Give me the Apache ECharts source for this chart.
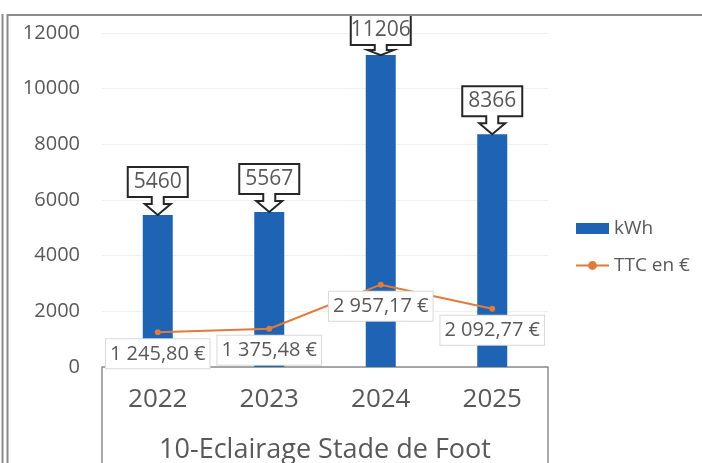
<!DOCTYPE html>
<html><head><meta charset="utf-8">
<script src="https://cdn.jsdelivr.net/npm/echarts@6/dist/echarts.min.js"></script>
<style>html,body{margin:0;padding:0;background:#fff}#c{width:702px;height:463px}</style>
</head><body><div id="c"></div>
<script>
const categories = ['2022', '2023', '2024', '2025'];
const kwhValues = [5460, 5567, 11206, 8366];
const ttcValues = [1245.80, 1375.48, 2957.17, 2092.77];
const yTicks = [0, 2000, 4000, 6000, 8000, 10000, 12000];
const axisTitle = '10-Eclairage Stade de Foot';
const seriesNames = ['kWh', 'TTC en €'];

const FONT = '"Open Sans", sans-serif';
const TEXT = '#595959';
function fmtEuro(v) {
  const parts = v.toFixed(2).split('.');
  const intPart = parts[0].replace(/\B(?=(\d{3})+(?!\d))/g, ' ');
  return intPart + ',' + parts[1] + ' €';
}

const chart = echarts.init(document.getElementById('c'), null, {renderer: 'canvas'});
chart.setOption({
  animation: false,
  backgroundColor: '#fff',
  textStyle: {fontFamily: FONT},
  grid: {left: 102, right: 154, top: 33, bottom: 96, containLabel: false, outerBoundsMode: 'none'},
  legend: {
    orient: 'vertical', left: 570, top: 214, itemGap: 18,
    itemWidth: 33, itemHeight: 11,
    textStyle: {color: TEXT, fontSize: 19, fontFamily: FONT},
    data: [
      {name: seriesNames[0], icon: 'rect'},
      {name: seriesNames[1]}
    ]
  },
  xAxis: {
    type: 'category', data: categories,
    axisLine: {show: true, lineStyle: {color: '#8c8c8c', width: 1.5}},
    axisTick: {show: false},
    axisLabel: {color: TEXT, fontSize: 26, margin: 20, fontFamily: FONT},
    name: axisTitle, nameLocation: 'middle', nameGap: 70,
    nameTextStyle: {color: TEXT, fontSize: 27, fontFamily: FONT}
  },
  yAxis: {
    type: 'value', min: yTicks[0], max: yTicks[yTicks.length - 1], interval: 2000,
    axisLine: {show: false}, axisTick: {show: false},
    axisLabel: {color: TEXT, fontSize: 20, margin: 22, fontFamily: FONT, formatter: v => String(v)},
    splitLine: {lineStyle: {color: '#efefef', width: 1}}
  },
  series: [
    {
      name: seriesNames[0], type: 'bar', data: kwhValues, barWidth: 30,
      itemStyle: {color: '#1f63b5'}, z: 2
    },
    {
      name: seriesNames[1], type: 'line', data: ttcValues,
      itemStyle: {color: '#e07b39'},
      lineStyle: {color: '#e07b39', width: 2},
      symbol: 'circle', symbolSize: 6, z: 3,
      label: {
        show: true, position: 'bottom', distance: 4,
        formatter: p => fmtEuro(p.value),
        color: TEXT, fontSize: 20, fontFamily: FONT,
        backgroundColor: '#fff', borderColor: '#d9d9d9', borderWidth: 1,
        padding: [5, 4, 4, 4]
      }
    },
    {
      name: 'callouts', type: 'custom', data: kwhValues.map((v, i) => [i, v]),
      z: 5, silent: true,
      renderItem: function (params, api) {
        const pt = api.coord([api.value(0), api.value(1)]);
        const x = pt[0], y = pt[1];
        const minTop = params.coordSys.y - 18;
        const top = Math.max(y - 48, minTop);
        const bot = top + 30;
        const neck = Math.min(bot + 7, y - 5);
        const pts = [
          [x - 30, top], [x + 30, top], [x + 30, bot],
          [x + 6, bot], [x + 6, neck], [x + 13, neck],
          [x, y], [x - 13, neck], [x - 6, neck], [x - 6, bot],
          [x - 30, bot]
        ];
        return {
          type: 'group',
          children: [
            {type: 'polygon', shape: {points: pts},
             style: {fill: '#fff', stroke: '#262626', lineWidth: 2}},
            {type: 'text', x: x, y: top + 15,
             style: {text: String(api.value(1)), fill: TEXT, fontSize: 21,
                     fontFamily: FONT, align: 'center', verticalAlign: 'middle'}}
          ]
        };
      }
    }
  ],
  graphic: [
    {type: 'line', shape: {x1: 2.5, y1: 14, x2: 2.5, y2: 463}, style: {stroke: '#8c8c8c', lineWidth: 2}, z: 100},
    {type: 'line', shape: {x1: 7.5, y1: 14, x2: 7.5, y2: 463}, style: {stroke: '#8c8c8c', lineWidth: 2}, z: 100},
    {type: 'line', shape: {x1: 7, y1: 15, x2: 702, y2: 15}, style: {stroke: '#8c8c8c', lineWidth: 2}, z: 100},
    {type: 'line', shape: {x1: 102, y1: 367, x2: 102, y2: 463}, style: {stroke: '#8c8c8c', lineWidth: 1.5}, z: 100},
    {type: 'line', shape: {x1: 548, y1: 367, x2: 548, y2: 463}, style: {stroke: '#8c8c8c', lineWidth: 1.5}, z: 100}
  ]
});
</script></body></html>
